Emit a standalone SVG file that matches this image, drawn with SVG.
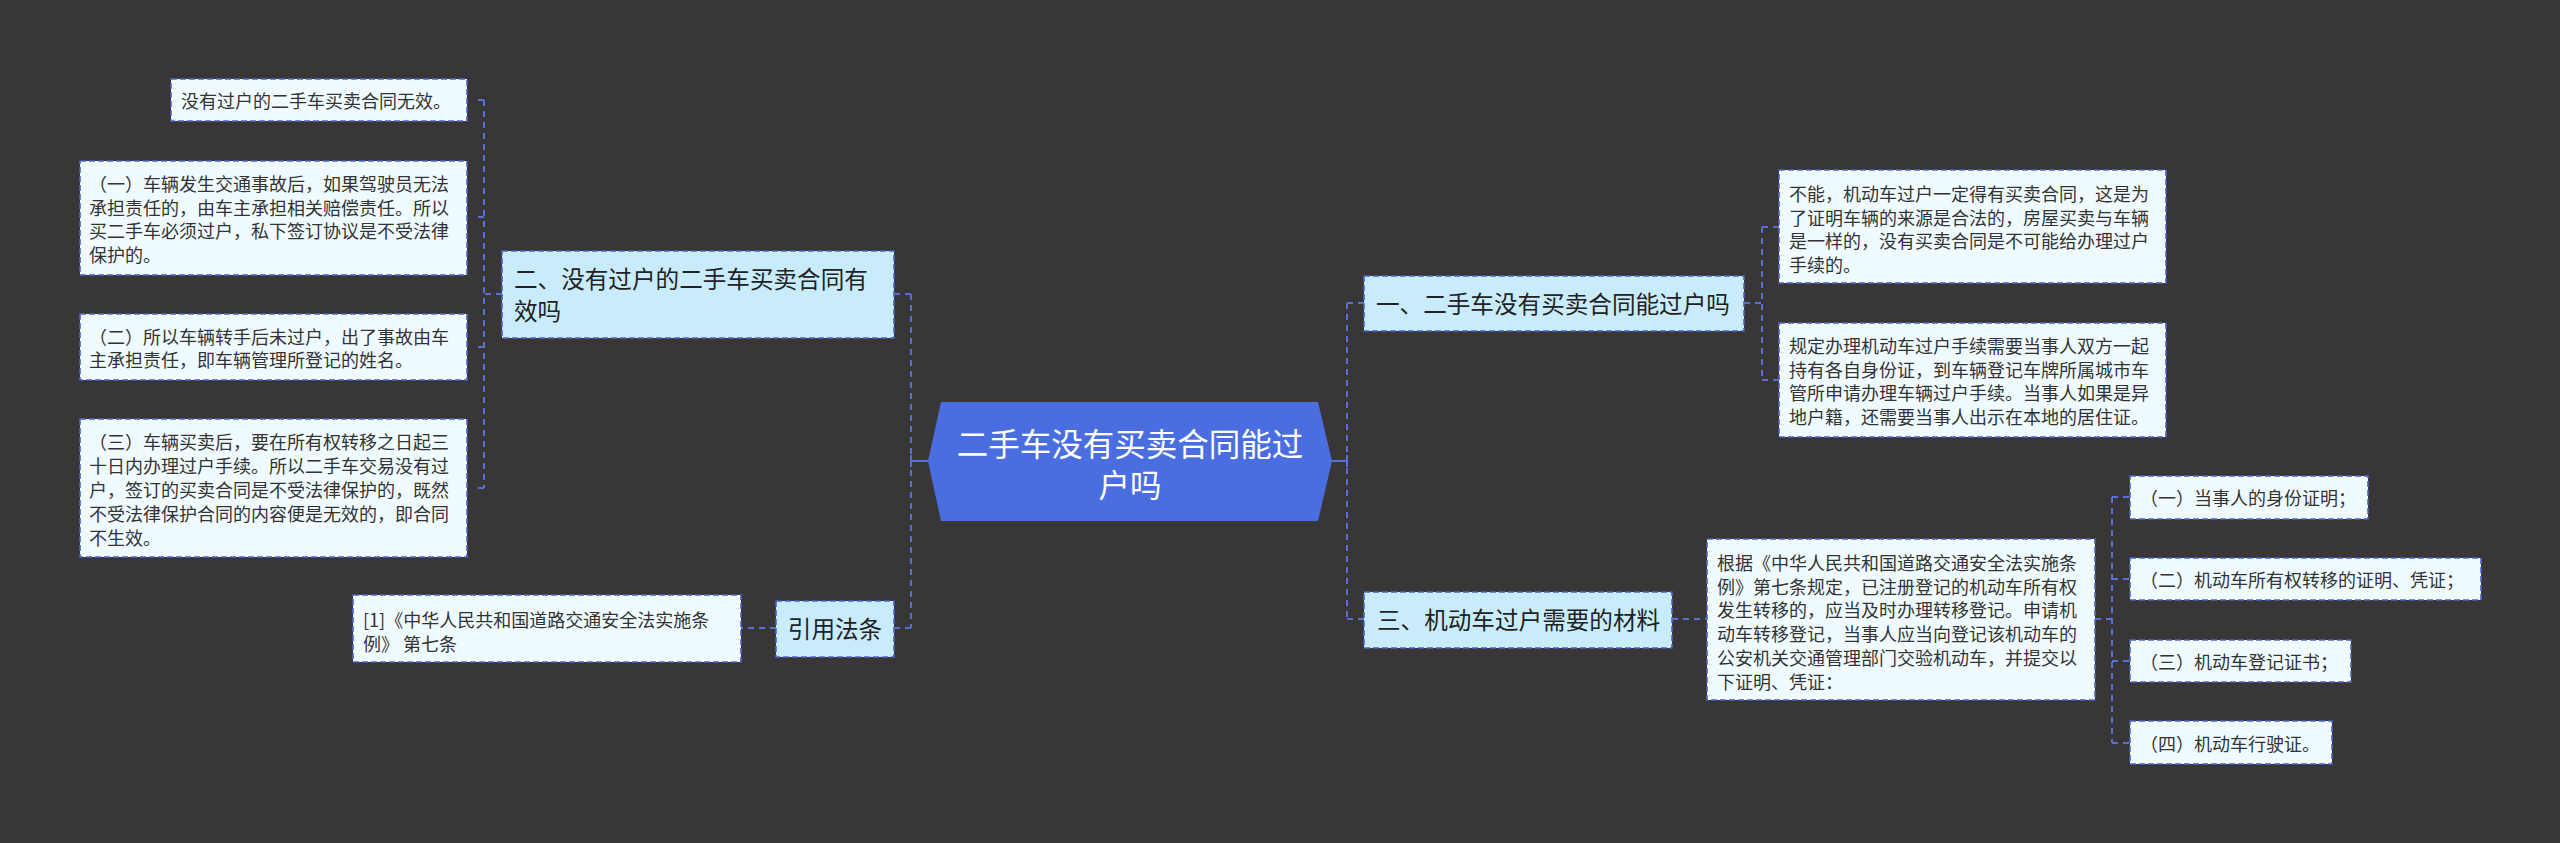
<svg xmlns="http://www.w3.org/2000/svg" width="2560" height="843" viewBox="0 0 2560 843">
<style>
.bg{fill:#383637}
.conn{fill:none;stroke:#5672d9;stroke-width:2;stroke-dasharray:6 5}
.solid{fill:none;stroke:#5672d9;stroke-width:2}
.leaf{fill:#f0fbff;stroke:#4c64c6;stroke-width:1.6;stroke-dasharray:6 3}
.sub{fill:#c9ecfc;stroke:#4c64c6;stroke-width:1.6;stroke-dasharray:6 3}
.lt{font-family:"Noto Sans CJK SC","Noto Sans",sans-serif;font-size:18px;fill:#333;dominant-baseline:central}
.st{font-family:"Noto Sans CJK SC","Noto Sans",sans-serif;font-size:23.6px;fill:#222;dominant-baseline:central}
.ct{font-family:"Noto Sans CJK SC","Noto Sans",sans-serif;font-size:31.5px;fill:#fff;dominant-baseline:central;text-anchor:middle}
</style>
<rect class="bg" x="0" y="0" width="2560" height="843"/>
<g id="connectors">
<path class="conn" d="M911 294 V628"/>
<path class="solid" d="M911 461 H930 M911 455 V467"/>
<path class="conn" d="M894 294 H911 M894 628 H911"/>
<path class="conn" d="M484 100 V488"/>
<path class="conn" d="M502 294 H484 M484 100 H474 M484 217 H474 M484 347 H474 M484 488 H474"/>
<path class="conn" d="M776 628 H741"/>
<path class="conn" d="M1347 303 V619"/>
<path class="solid" d="M1330 461 H1347 M1347 455 V467"/>
<path class="conn" d="M1347 303 H1364 M1347 619 H1364"/>
<path class="conn" d="M1744 303 H1762 M1762 227 V380 M1762 227 H1779 M1762 380 H1779"/>
<path class="conn" d="M1672 619 H1707"/>
<path class="conn" d="M2095 619 H2112 M2112 497 V743 M2112 497 H2130 M2112 579 H2130 M2112 661 H2130 M2112 743 H2130"/>
</g>
<g id="center">
<polygon points="928,461 941,402 1318,402 1332,461 1318,521 941,521" fill="#4a6ee0"/>
<text class="ct" x="1130"><tspan x="1130" y="442">二手车没有买卖合同能过</tspan><tspan x="1130" y="483">户吗</tspan></text>
</g>
<g id="n2">
<rect class="sub" x="502" y="251" width="392" height="87"/>
<text class="st"><tspan x="514" y="278">二、没有过户的二手车买卖合同有</tspan><tspan x="514" y="310">效吗</tspan></text>
</g>
<g id="n2a">
<rect class="leaf" x="171" y="79" width="296" height="42"/>
<text class="lt" x="181" y="100">没有过户的二手车买卖合同无效。</text>
</g>
<g id="n2b">
<rect class="leaf" x="80" y="161" width="387" height="114"/>
<text class="lt"><tspan x="89" y="183">（一）车辆发生交通事故后，如果驾驶员无法</tspan><tspan x="89" y="207">承担责任的，由车主承担相关赔偿责任。所以</tspan><tspan x="89" y="230">买二手车必须过户，私下签订协议是不受法律</tspan><tspan x="89" y="254">保护的。</tspan></text>
</g>
<g id="n2c">
<rect class="leaf" x="80" y="314" width="387" height="66"/>
<text class="lt"><tspan x="89" y="336">（二）所以车辆转手后未过户，出了事故由车</tspan><tspan x="89" y="359">主承担责任，即车辆管理所登记的姓名。</tspan></text>
</g>
<g id="n2d">
<rect class="leaf" x="80" y="419" width="387" height="138"/>
<text class="lt"><tspan x="89" y="441">（三）车辆买卖后，要在所有权转移之日起三</tspan><tspan x="89" y="465">十日内办理过户手续。所以二手车交易没有过</tspan><tspan x="89" y="489">户，签订的买卖合同是不受法律保护的，既然</tspan><tspan x="89" y="513">不受法律保护合同的内容便是无效的，即合同</tspan><tspan x="89" y="537">不生效。</tspan></text>
</g>
<g id="nref">
<rect class="sub" x="776" y="601" width="118" height="56"/>
<text class="st" x="835" y="628" text-anchor="middle">引用法条</text>
</g>
<g id="nrefa">
<rect class="leaf" x="353" y="595" width="388" height="67"/>
<text class="lt"><tspan x="363" y="619">[1]《中华人民共和国道路交通安全法实施条</tspan><tspan x="363" y="643">例》 第七条</tspan></text>
</g>
<g id="n1">
<rect class="sub" x="1364" y="276" width="380" height="55"/>
<text class="st" x="1376" y="303">一、二手车没有买卖合同能过户吗</text>
</g>
<g id="n1a">
<rect class="leaf" x="1779" y="170" width="387" height="113"/>
<text class="lt"><tspan x="1789" y="193">不能，机动车过户一定得有买卖合同，这是为</tspan><tspan x="1789" y="217">了证明车辆的来源是合法的，房屋买卖与车辆</tspan><tspan x="1789" y="240">是一样的，没有买卖合同是不可能给办理过户</tspan><tspan x="1789" y="264">手续的。</tspan></text>
</g>
<g id="n1b">
<rect class="leaf" x="1779" y="323" width="387" height="114"/>
<text class="lt"><tspan x="1789" y="345">规定办理机动车过户手续需要当事人双方一起</tspan><tspan x="1789" y="369">持有各自身份证，到车辆登记车牌所属城市车</tspan><tspan x="1789" y="392">管所申请办理车辆过户手续。当事人如果是异</tspan><tspan x="1789" y="416">地户籍，还需要当事人出示在本地的居住证。</tspan></text>
</g>
<g id="n3">
<rect class="sub" x="1364" y="592" width="308" height="56"/>
<text class="st" x="1377" y="619">三、机动车过户需要的材料</text>
</g>
<g id="n3a">
<rect class="leaf" x="1707" y="539" width="388" height="161"/>
<text class="lt"><tspan x="1717" y="562">根据《中华人民共和国道路交通安全法实施条</tspan><tspan x="1717" y="586">例》第七条规定，已注册登记的机动车所有权</tspan><tspan x="1717" y="609">发生转移的，应当及时办理转移登记。申请机</tspan><tspan x="1717" y="633">动车转移登记，当事人应当向登记该机动车的</tspan><tspan x="1717" y="657">公安机关交通管理部门交验机动车，并提交以</tspan><tspan x="1717" y="681">下证明、凭证：</tspan></text>
</g>
<g id="s1">
<rect class="leaf" x="2130" y="476" width="238" height="43"/>
<text class="lt" x="2140" y="497">（一）当事人的身份证明；</text>
</g>
<g id="s2">
<rect class="leaf" x="2130" y="558" width="351" height="42"/>
<text class="lt" x="2140" y="579">（二）机动车所有权转移的证明、凭证；</text>
</g>
<g id="s3">
<rect class="leaf" x="2130" y="640" width="221" height="42"/>
<text class="lt" x="2140" y="661">（三）机动车登记证书；</text>
</g>
<g id="s4">
<rect class="leaf" x="2130" y="721" width="202" height="43"/>
<text class="lt" x="2140" y="743">（四）机动车行驶证。</text>
</g>
</svg>
